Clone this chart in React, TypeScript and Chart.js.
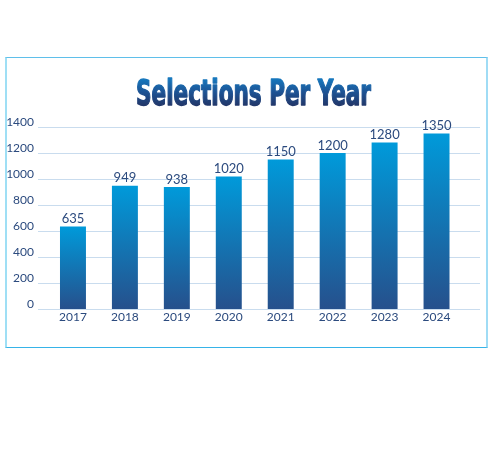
import React, { useEffect, useRef } from "react";
import { Chart, registerables } from "chart.js";

Chart.register(...registerables);

const categories = ["2017", "2018", "2019", "2020", "2021", "2022", "2023", "2024"];
const selections = [635, 949, 938, 1020, 1150, 1200, 1280, 1350];
const yTicks = [0, 200, 400, 600, 800, 1000, 1200, 1400];
const titleText = "Selections Per Year";

const LABEL_FONT = "Lato, 'Open Sans', sans-serif";
const TEXT_COLOR = "#2b4a7e";

export default function App() {
  const canvasRef = useRef<HTMLCanvasElement | null>(null);

  useEffect(() => {
    const canvas = canvasRef.current;
    if (!canvas) return;

    const gridPlugin = {
      id: "customGrid",
      beforeDatasetsDraw(chart: any) {
        const { ctx } = chart;
        const y = chart.scales.y;
        ctx.save();
        ctx.strokeStyle = "#c9dcee";
        ctx.lineWidth = 1;
        yTicks.forEach((v) => {
          const py = Math.round(y.getPixelForValue(v)) + 0.5;
          ctx.beginPath();
          ctx.moveTo(38, py);
          ctx.lineTo(480, py);
          ctx.stroke();
        });
        ctx.restore();
      },
    };

    const valueLabelPlugin = {
      id: "valueLabels",
      afterDatasetsDraw(chart: any) {
        const { ctx } = chart;
        const meta = chart.getDatasetMeta(0);
        ctx.save();
        ctx.fillStyle = TEXT_COLOR;
        ctx.font = `13px ${LABEL_FONT}`;
        ctx.textAlign = "center";
        ctx.textBaseline = "bottom";
        meta.data.forEach((bar: any, i: number) => {
          ctx.fillText(String(selections[i]), bar.x, bar.y - 1);
        });
        ctx.restore();
      },
    };

    const titlePlugin = {
      id: "fancyTitle",
      afterDraw(chart: any) {
        const { ctx } = chart;
        ctx.save();
        ctx.font = `bold 35px "DejaVu Sans Condensed", "DejaVu Sans", sans-serif`;
        ctx.textAlign = "left";
        ctx.textBaseline = "alphabetic";
        const w = ctx.measureText(titleText).width;
        const targetW = 235;
        const sx = targetW / w;
        const left = 136;
        const baseline = 105;
        ctx.translate(left, baseline);
        ctx.scale(sx, 1);
        const g = ctx.createLinearGradient(0, -26, 0, 0);
        g.addColorStop(0, "#1677bd");
        g.addColorStop(0.5, "#1d5394");
        g.addColorStop(1, "#22386b");
        ctx.fillStyle = g;
        ctx.strokeStyle = g;
        ctx.lineWidth = 1.4;
        ctx.lineJoin = "round";
        ctx.fillText(titleText, 0, 0);
        ctx.strokeText(titleText, 0, 0);
        ctx.restore();
      },
    };

    const chart = new Chart(canvas, {
      type: "bar",
      data: {
        labels: categories,
        datasets: [
          {
            data: selections,
            backgroundColor: (c: any) => {
              const chartObj = c.chart;
              const ys = chartObj.scales && chartObj.scales.y;
              if (!ys || !chartObj.chartArea || c.raw == null) return "#1478b8";
              const top = ys.getPixelForValue(c.raw);
              const bottom = ys.getPixelForValue(0);
              if (!isFinite(top) || !isFinite(bottom) || top === bottom) return "#1478b8";
              const g = chartObj.ctx.createLinearGradient(0, top, 0, bottom);
              g.addColorStop(0, "#009ada");
              g.addColorStop(1, "#26508c");
              return g;
            },
            borderWidth: 0,
            barPercentage: 0.5,
            categoryPercentage: 1,
          },
        ],
      },
      options: {
        responsive: false,
        animation: false,
        devicePixelRatio: 1,
        layout: { padding: { left: 0, right: 30.5, top: 127, bottom: 0 } },
        plugins: {
          legend: { display: false },
          title: { display: false },
          tooltip: { enabled: false },
        },
        scales: {
          x: {
            grid: { display: false, drawTicks: false },
            border: { display: false },
            ticks: {
              color: TEXT_COLOR,
              font: { family: LABEL_FONT, size: 12 },
              padding: 1,
            },
            afterFit: (s: any) => {
              s.height = 161;
            },
          },
          y: {
            min: 0,
            max: 1400,
            grid: { display: false, drawTicks: false },
            border: { display: false },
            ticks: {
              stepSize: 200,
              color: TEXT_COLOR,
              font: { family: LABEL_FONT, size: 12 },
              padding: 13,
              labelOffset: -5,
              callback: (v: any) => String(v),
            },
            afterFit: (s: any) => {
              s.width = 47;
            },
          },
        },
      },
      plugins: [gridPlugin, valueLabelPlugin, titlePlugin],
    });

    return () => chart.destroy();
  }, []);

  return (
    <div style={{ position: "absolute", left: 0, top: 0, width: 493, height: 470, background: "#ffffff" }}>
      <div
        style={{
          position: "absolute",
          left: 5,
          top: 57,
          width: 483,
          height: 291,
          boxSizing: "border-box",
          borderLeft: "2px solid #9fdff5",
          borderRight: "2px solid #a0dcf5",
          borderTop: "1.5px solid #5fbfea",
          borderBottom: "1.5px solid #36b3e8",
        }}
      />
      <canvas
        ref={canvasRef}
        width={493}
        height={470}
        style={{ position: "absolute", left: 0, top: 0, width: 493, height: 470 }}
      />
    </div>
  );
}
